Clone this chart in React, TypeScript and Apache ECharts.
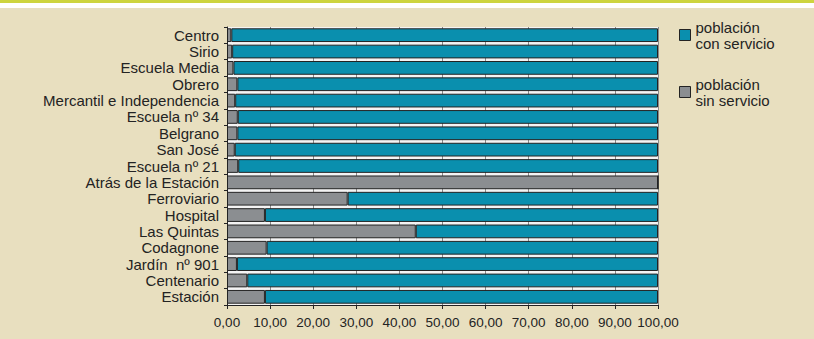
import React, { useEffect, useRef } from "react";
import * as echarts from "echarts";

const categories = [
  "Centro",
  "Sirio",
  "Escuela Media",
  "Obrero",
  "Mercantil e Independencia",
  "Escuela nº 34",
  "Belgrano",
  "San José",
  "Escuela nº 21",
  "Atrás de la Estación",
  "Ferroviario",
  "Hospital",
  "Las Quintas",
  "Codagnone",
  "Jardín  nº 901",
  "Centenario",
  "Estación",
];

const sinServicio = [1.0, 1.2, 1.5, 2.4, 1.9, 2.5, 2.4, 1.8, 2.6, 100, 28.0, 8.8, 43.8, 9.2, 2.3, 4.7, 8.8];
const conServicio = [99.0, 98.8, 98.5, 97.6, 98.1, 97.5, 97.6, 98.2, 97.4, 0, 72.0, 91.2, 56.2, 90.8, 97.7, 95.3, 91.2];

const xTicks = { min: 0, max: 100, interval: 10 };

const TEAL = "#0a8fae";
const GRAY = "#8b8e91";
const BEIGE = "#e8dfbf";
const BAND = "#cdd43e";
const DARK = "#232323";

export default function App() {
  const ref = useRef<HTMLDivElement>(null);
  useEffect(() => {
    if (!ref.current) return;
    const chart = echarts.init(ref.current, null, { renderer: "svg" });
    chart.setOption({
      animation: false,
      backgroundColor: BEIGE,
      graphic: [
        { type: "rect", z: -10, shape: { x: 0, y: 0, width: 814, height: 3 }, style: { fill: BAND } },
        { type: "rect", z: -10, shape: { x: 0, y: 3, width: 814, height: 5 }, style: { fill: "#ffffff" } },
      ],
      grid: {
        left: 227,
        right: 156,
        top: 27,
        bottom: 34,
        show: true,
        backgroundColor: "#f4f4f4",
        borderWidth: 0,
      },
      legend: {
        orient: "vertical",
        left: 674,
        top: 6,
        icon: "rect",
        itemWidth: 11,
        itemHeight: 11,
        itemGap: 9,
        data: ["población\ncon servicio", "población\nsin servicio"],
        itemStyle: { borderColor: DARK, borderWidth: 1 },
        textStyle: {
          fontFamily: "Liberation Sans, Arial, sans-serif",
          fontSize: 15,
          lineHeight: 16,
          color: DARK,
          padding: [16, 0, 0, 0],
        },
      },
      xAxis: {
        type: "value",
        min: xTicks.min,
        max: xTicks.max,
        interval: xTicks.interval,
        axisLine: { show: true, lineStyle: { color: DARK, width: 1 } },
        axisTick: { show: true, length: 4, lineStyle: { color: DARK } },
        splitLine: { show: true, lineStyle: { color: "#8a8a8a", width: 1 } },
        axisLabel: {
          fontFamily: "Liberation Sans Narrow, Arial Narrow, sans-serif",
          fontSize: 13.5,
          color: DARK,
          margin: 10,
          formatter: (v: number) => v.toFixed(2).replace(".", ","),
        },
      },
      yAxis: {
        type: "category",
        inverse: true,
        data: categories,
        axisLine: { show: true, lineStyle: { color: DARK, width: 1 } },
        axisTick: { show: true, length: 3, lineStyle: { color: DARK } },
        axisLabel: {
          interval: 0,
          fontFamily: "Liberation Sans, Arial, sans-serif",
          fontSize: 15,
          color: DARK,
          margin: 8,
        },
      },
      series: [
        {
          name: "población\nsin servicio",
          type: "bar",
          stack: "total",
          barCategoryGap: "16%",
          data: sinServicio,
          itemStyle: { color: GRAY, borderColor: DARK, borderWidth: 1 },
        },
        {
          name: "población\ncon servicio",
          type: "bar",
          stack: "total",
          barCategoryGap: "16%",
          data: conServicio,
          itemStyle: { color: TEAL, borderColor: DARK, borderWidth: 1 },
        },
      ],
    });
    return () => chart.dispose();
  }, []);
  return (
    <div
      ref={ref}
      style={{ position: "fixed", left: 0, top: 0, width: 814, height: 339 }}
    />
  );
}
